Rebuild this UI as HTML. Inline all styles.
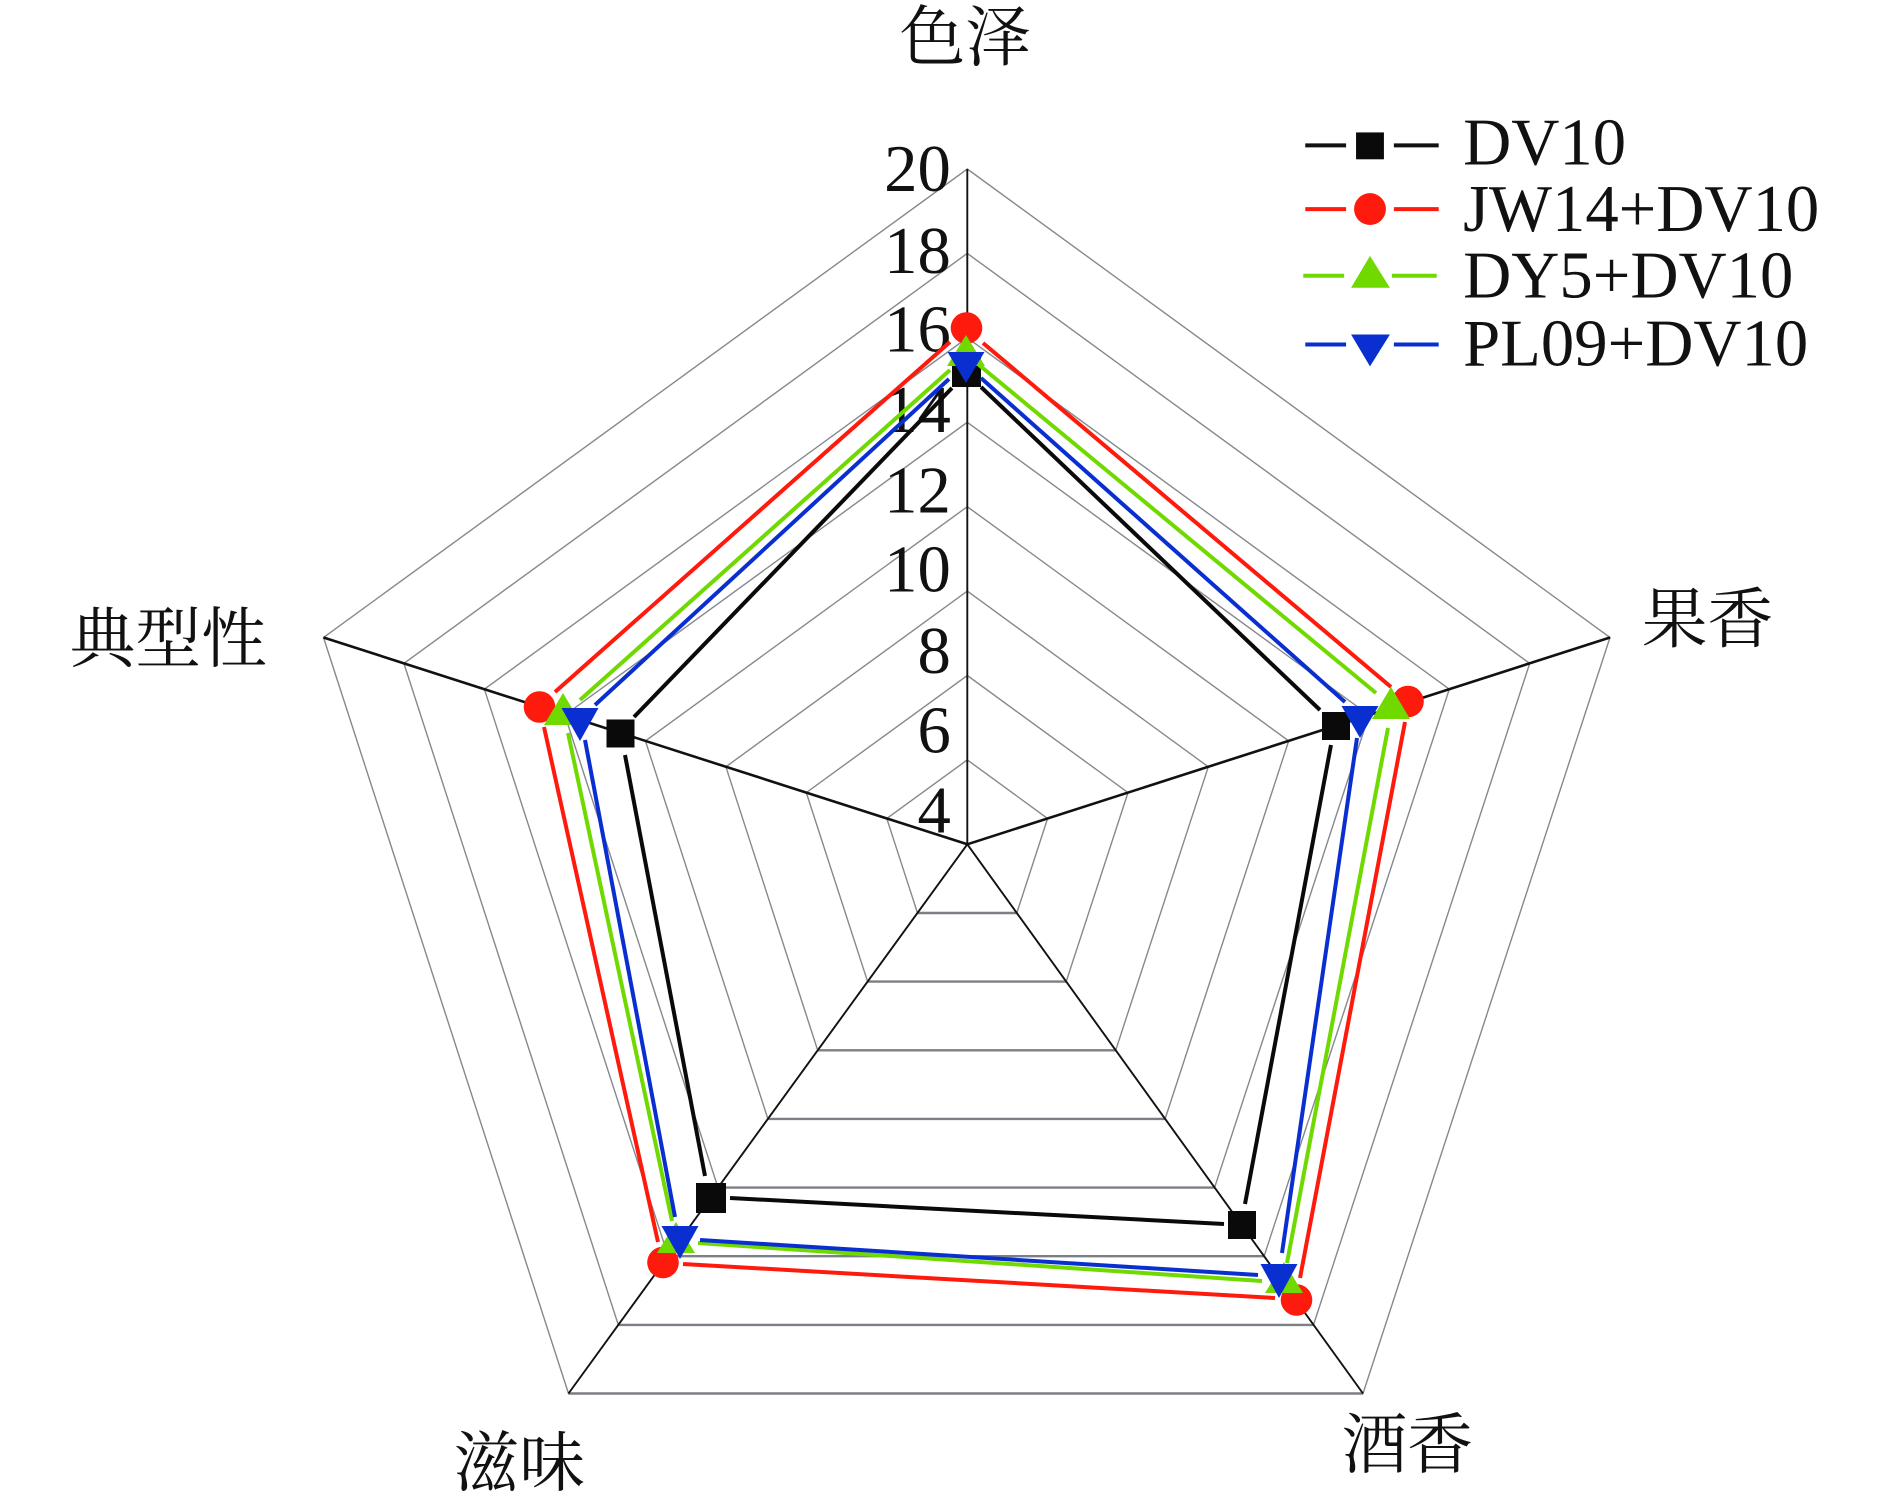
<!DOCTYPE html>
<html lang="zh">
<head>
<meta charset="utf-8">
<style>
html,body{margin:0;padding:0;background:#fff;width:1890px;height:1503px;overflow:hidden}
svg{display:block}
.n{font-family:"Liberation Serif",serif;font-size:67px;fill:#111}
.c{font-family:"Liberation Serif","Noto Serif CJK SC",serif;font-size:66px;fill:#111}
.g{fill:none;stroke:#85888e;stroke-width:1.4}
.h{fill:none;stroke:#7c7f85;stroke-width:2.4}
.a{stroke:#111;stroke-width:1.9;fill:none}
.s{fill:none;stroke-width:4}
</style>
</head>
<body>
<svg width="1890" height="1503" viewBox="0 0 1890 1503" xmlns="http://www.w3.org/2000/svg">
<rect width="1890" height="1503" fill="#fff"/>
<g class="g">
<polygon points="967.3,759.9 1047.6,818.5 1016.8,913 917.5,913 886.8,818.5"/>
<polygon points="967.3,675.5 1128,792.6 1066.2,981.6 867.6,981.6 806.3,792.6"/>
<polygon points="967.3,591.1 1208.3,766.8 1115.7,1050.3 817.7,1050.3 725.9,766.8"/>
<polygon points="967.3,506.7 1288.7,740.9 1165.1,1118.9 767.9,1118.9 645.4,740.9"/>
<polygon points="967.3,422.3 1369,715.1 1214.6,1187.6 718,1187.6 564.9,715.1"/>
<polygon points="967.3,337.8 1449.3,689.2 1264.1,1256.2 668.2,1256.2 484.4,689.2"/>
<polygon points="967.3,253.4 1529.7,663.4 1313.5,1324.9 618.3,1324.9 403.9,663.4"/>
<polygon points="967.3,169 1610,637.5 1363,1393.5 568.5,1393.5 323.5,637.5"/>
</g>
<g class="h">
<path d="M917.5 913H1016.8M867.6 981.6H1066.2M817.7 1050.3H1115.7M767.9 1118.9H1165.1M718 1187.6H1214.6M668.2 1256.2H1264.1M618.3 1324.9H1313.5M568.5 1393.5H1363"/>
</g>
<g class="a">
<line x1="967.3" y1="844.3" x2="967.3" y2="169"/>
<line x1="967.3" y1="844.3" x2="1610" y2="637.5" stroke-width="2.6"/>
<line x1="967.3" y1="844.3" x2="1363" y2="1393.5"/>
<line x1="967.3" y1="844.3" x2="568.5" y2="1393.5"/>
<line x1="967.3" y1="844.3" x2="323.5" y2="637.5" stroke-width="2.6"/>
</g>
<g transform="scale(0.99563)">
<g class="n" text-anchor="end">
<text x="955" y="192">20</text>
<text x="955" y="274">18</text>
<text x="955" y="353">16</text>
<text x="955" y="434">14</text>
<text x="955" y="515">12</text>
<text x="955" y="594">10</text>
<text x="955" y="676">8</text>
<text x="955" y="756">6</text>
<text x="955" y="836">4</text>
</g>
<g class="c">
<text x="903.5" y="60.5">色泽</text>
<text x="1649" y="645">果香</text>
<text x="70" y="664.5">典型性</text>
<text x="455.5" y="1492">滋味</text>
<text x="1347.5" y="1474">酒香</text>
</g>
<g class="s">
<path d="M1311 146H1352M1400 146H1445" stroke="#111"/>
<path d="M1311 210H1352M1400 210H1445" stroke="#fe1a0c"/>
<path d="M1309 277H1350M1398 277H1443" stroke="#6fd900"/>
<path d="M1311 346H1352M1400 346H1445" stroke="#0a2fd0"/>
</g>
<rect x="1362" y="133" width="28" height="27" fill="#0a0a0a"/>
<circle cx="1376" cy="210" r="16" fill="#fe1a0c"/>
<polygon points="1376,257 1357,289 1396,289" fill="#6fd900"/>
<polygon points="1357,336 1396,336 1376,368" fill="#0a2fd0"/>
<g class="n">
<text x="1469.5" y="165">DV10</text>
<text x="1469.5" y="232">JW14+DV10</text>
<text x="1469.5" y="299">DY5+DV10</text>
<text x="1469.5" y="367">PL09+DV10</text>
</g>
</g>
<g class="s" stroke="#0a0a0a">
<line x1="981" y1="387" x2="1320" y2="710"/>
<line x1="1331" y1="745" x2="1245" y2="1204"/>
<line x1="1224" y1="1224" x2="730" y2="1198"/>
<line x1="705" y1="1176" x2="625" y2="755"/>
<line x1="634" y1="717" x2="952" y2="388"/>
</g>
<g fill="#0a0a0a">
<rect x="952" y="358" width="29" height="29"/>
<rect x="1322" y="712" width="28" height="28"/>
<rect x="1228" y="1211" width="28" height="28"/>
<rect x="696" y="1183" width="30" height="30"/>
<rect x="606.5" y="719.5" width="28" height="28"/>
</g>
<g class="s" stroke="#fe1a0c">
<line x1="983" y1="343" x2="1391" y2="687"/>
<line x1="1405" y1="722" x2="1300" y2="1278"/>
<line x1="1275" y1="1298" x2="683" y2="1264"/>
<line x1="658" y1="1242" x2="544" y2="727"/>
<line x1="555" y1="692" x2="950" y2="342"/>
</g>
<g fill="#fe1a0c">
<circle cx="966.5" cy="328" r="15.8"/>
<circle cx="1408" cy="701.5" r="15.8"/>
<circle cx="1296.5" cy="1300" r="15.8"/>
<circle cx="663" cy="1262.5" r="15.8"/>
<circle cx="539.5" cy="707" r="15.8"/>
</g>
<g class="s" stroke="#6fd900">
<line x1="979" y1="365" x2="1376" y2="693"/>
<line x1="1388" y1="728" x2="1287" y2="1263"/>
<line x1="1262" y1="1281" x2="698" y2="1243"/>
<line x1="672" y1="1221" x2="568" y2="733"/>
<line x1="580" y1="700" x2="950" y2="370"/>
</g>
<g fill="#6fd900">
<polygon points="966,335 947,366 985,366"/>
<polygon points="1391,687 1372,719 1410,719"/>
<polygon points="1284,1262 1265,1293 1303,1293"/>
<polygon points="676,1222 657,1253 695,1253"/>
<polygon points="563,693 544,725 582,725"/>
</g>
<g class="s" stroke="#0a2fd0">
<line x1="981" y1="378" x2="1345" y2="702"/>
<line x1="1357" y1="738" x2="1282" y2="1253"/>
<line x1="1258" y1="1275" x2="700" y2="1240"/>
<line x1="675" y1="1217" x2="585" y2="740"/>
<line x1="595" y1="705" x2="949" y2="379"/>
</g>
<g fill="#0a2fd0">
<polygon points="947.5,352 984.5,352 966,383"/>
<polygon points="1341.5,706 1378.5,706 1360,738"/>
<polygon points="1260.5,1264 1297.5,1264 1279,1298"/>
<polygon points="661.5,1226 698.5,1226 680,1259"/>
<polygon points="561.5,708 598.5,708 580,741"/>
</g>
</svg>
</body>
</html>
